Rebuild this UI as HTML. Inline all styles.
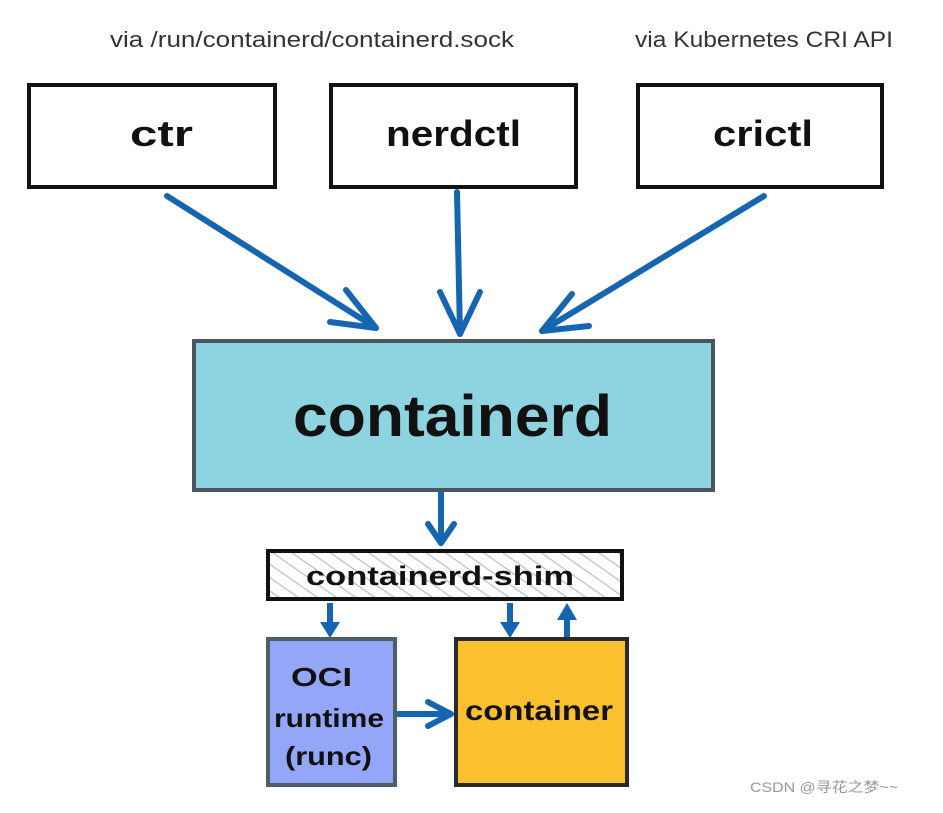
<!DOCTYPE html>
<html><head><meta charset="utf-8"><style>
body{margin:0;background:#fff;width:943px;height:813px;overflow:hidden}
svg{display:block}
.h{font-family:"Comic Sans MS","Liberation Sans",sans-serif;fill:#111;font-weight:bold}
</style></head><body>
<svg width="943" height="813" viewBox="0 0 943 813" xmlns="http://www.w3.org/2000/svg">
<defs>
<pattern id="hatch" width="11" height="11" patternUnits="userSpaceOnUse" patternTransform="rotate(-55)">
<line x1="0" y1="0" x2="0" y2="11" stroke="#b8c1cd" stroke-width="2.5"/>
</pattern>
</defs>
<text x="110" y="47" font-family="Liberation Sans,sans-serif" font-size="22" fill="#333" textLength="404" lengthAdjust="spacingAndGlyphs">via /run/containerd/containerd.sock</text>
<text x="635" y="47" font-family="Liberation Sans,sans-serif" font-size="22" fill="#333" textLength="258" lengthAdjust="spacingAndGlyphs">via Kubernetes CRI API</text>

<g fill="#fff" stroke="#111" stroke-width="4">
<rect x="29" y="85" width="246" height="102"/>
<rect x="331" y="85" width="245" height="102"/>
<rect x="638" y="85" width="244" height="102"/>
</g>
<text class="h" x="130" y="146" font-size="36" textLength="63" lengthAdjust="spacingAndGlyphs">ctr</text>
<text class="h" x="386" y="146" font-size="36" textLength="135" lengthAdjust="spacingAndGlyphs">nerdctl</text>
<text class="h" x="713" y="146" font-size="36" textLength="100" lengthAdjust="spacingAndGlyphs">crictl</text>

<g stroke="#1565b0" stroke-width="6" fill="none" stroke-linecap="round" stroke-linejoin="round">
<line x1="167" y1="196" x2="376" y2="328"/>
<polyline points="330,322 376,328 346,290"/>
<line x1="457" y1="192" x2="460" y2="334"/>
<polyline points="440,292 460,334 480,292"/>
<line x1="764" y1="196" x2="542" y2="331"/>
<polyline points="572,294 542,331 589,326"/>
<line x1="441" y1="493" x2="441" y2="543"/>
<polyline points="428,524 441,543 454,524"/>
</g>

<rect x="194" y="341" width="519" height="149" fill="#8dd4e0" stroke="#4a5560" stroke-width="4"/>
<text class="h" x="293" y="436" font-size="58" textLength="319" lengthAdjust="spacingAndGlyphs">containerd</text>

<rect x="268" y="551" width="354" height="48" fill="url(#hatch)" stroke="#111" stroke-width="4"/>
<text class="h" x="306" y="585" font-size="27" textLength="268" lengthAdjust="spacingAndGlyphs">containerd-shim</text>

<g fill="#1565b0">
<rect x="327" y="603" width="6" height="22"/><polygon points="320,622 340,622 330,638"/>
<rect x="507" y="603" width="6" height="22"/><polygon points="500,622 520,622 510,638"/>
<rect x="564" y="618" width="6" height="20"/><polygon points="557,620 577,620 567,603"/>
</g>
<g stroke="#1565b0" stroke-width="6" fill="none" stroke-linecap="round" stroke-linejoin="round">
<line x1="398" y1="714" x2="450" y2="714"/>
<polyline points="428,702 451,714 428,726"/>
</g>

<rect x="268" y="639" width="127" height="146" fill="#94a6f7" stroke="#4f5d66" stroke-width="4"/>
<text class="h" x="291" y="686" font-size="26" textLength="61" lengthAdjust="spacingAndGlyphs">OCI</text>
<text class="h" x="274" y="727" font-size="26" textLength="110" lengthAdjust="spacingAndGlyphs">runtime</text>
<text class="h" x="285" y="765" font-size="26" textLength="87" lengthAdjust="spacingAndGlyphs">(runc)</text>

<rect x="456" y="639" width="171" height="146" fill="#fbc02d" stroke="#2a2a2a" stroke-width="4"/>
<text class="h" x="465" y="720" font-size="28" textLength="148" lengthAdjust="spacingAndGlyphs">container</text>

<text x="750" y="792" font-family="Liberation Sans,'Noto Sans CJK SC',sans-serif" font-size="14" fill="#999" textLength="148" lengthAdjust="spacingAndGlyphs">CSDN @寻花之梦~~</text>
</svg>
</body></html>
